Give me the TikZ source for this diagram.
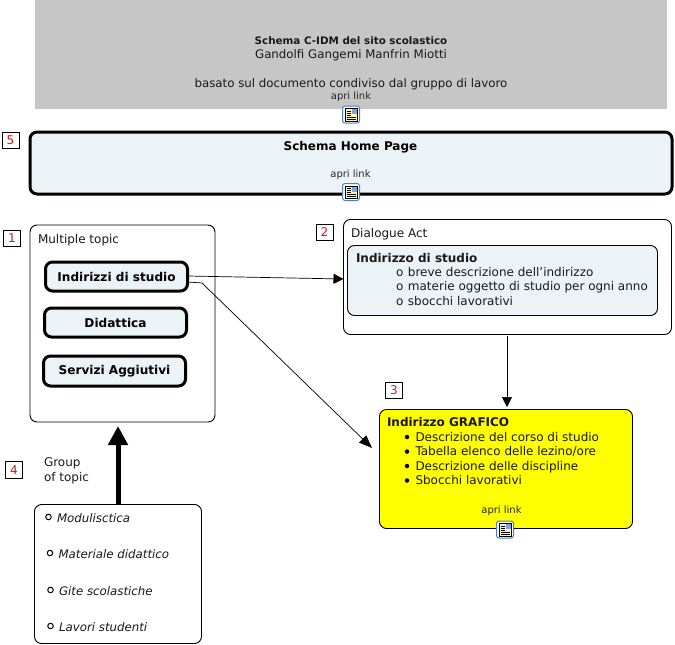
\documentclass[tikz,border=0pt]{standalone}
\usepackage{fontspec}
\setmainfont{DejaVu Sans}
\usetikzlibrary{arrows.meta,calc}
\tikzset{
  x=1pt,y=-1pt,
  card/.style={draw=black,line width=0.9pt,rounded corners=7pt,fill=white,anchor=north west,inner sep=0pt,outer sep=0pt},
  topic/.style={card,line width=3pt,fill=paleblue,rounded corners=7pt,align=center,font=\fontsize{12.1}{13}\selectfont\bfseries},
  numbox/.style={draw=black,line width=0.7pt,fill=white,minimum width=17pt,minimum height=16.5pt,inner sep=0pt,text=numred,font=\fontsize{12}{12}\selectfont},
  txt/.style={inner sep=0pt,outer sep=0pt,anchor=west,align=left,text=black!90,font=\fontsize{12}{14.6}\selectfont},
  small/.style={inner sep=0pt,text=black!85,font=\fontsize{10}{10}\selectfont},
  conn/.style={draw=black,line width=0.7pt,-{Triangle[length=10pt,width=10pt]}},
  linkicon/.pic={
    \draw[draw=iconblue,line width=1pt,fill=white,rounded corners=2.5pt] (-8.5,-8.5) rectangle (8.5,8.5);
    \draw[draw=black,line width=0.8pt,fill=iconyellow] (-6,-6) rectangle (6,6.5);
    \fill[iconblue!70] (0.5,-5.5) rectangle (5.5,-0.5);
    \foreach \yy in {-3.5,-1.5,0.5}{\draw[line width=0.6pt] (-4.5,\yy) -- (-0.5,\yy);}
    \foreach \yy in {2.5,4.5}{\draw[line width=0.6pt] (-4.5,\yy) -- (4.5,\yy);}
  }
}
\definecolor{paleblue}{HTML}{EBF3F6}
\definecolor{numred}{HTML}{D01818}
\definecolor{iconblue}{HTML}{4A80C8}
\definecolor{iconyellow}{HTML}{FBF6B8}
\definecolor{headgray}{HTML}{C6C6C6}
\definecolor{pureyellow}{RGB}{255,255,0}
\begin{document}
\begin{tikzpicture}
\useasboundingbox (0,0) rectangle (675,645);
% boxes
\node[anchor=north west,fill=headgray,minimum width=632pt,minimum height=109pt,inner sep=0pt] (head) at (35,0) {};
\node[topic,minimum width=642pt,minimum height=62pt] (home) at (30,132) {};
\node[card,minimum width=185pt,minimum height=197pt] (multi) at (30,225) {};
\node[topic,minimum width=142pt,minimum height=29pt] (ind) at (45.5,262) {Indirizzi di studio};
\node[topic,minimum width=142pt,minimum height=29pt] (did) at (44.5,308) {Didattica};
\node[topic,minimum width=142pt,minimum height=30pt] (serv) at (43.5,356) {Servizi Aggiutivi};
\node[card,minimum width=328pt,minimum height=115pt] (dial) at (343.5,219.5) {};
\node[card,fill=paleblue,minimum width=310pt,minimum height=70pt] (inner) at (347.5,245.5) {};
\node[card,fill=pureyellow,minimum width=253pt,minimum height=119pt] (yel) at (379.5,409.5) {};
\node[card,minimum width=167pt,minimum height=139pt] (grp) at (34.5,504.5) {};
% header text
\node[inner sep=0pt,align=center,text=black!90,font=\fontsize{11.8}{14}\selectfont,anchor=north] (headtxt) at (351,36.5) {{\fontsize{10.35}{14}\selectfont\textbf{Schema C-IDM del sito scolastico}}\\Gandolfi Gangemi Manfrin Miotti\\[14.5pt]basato sul documento condiviso dal gruppo di lavoro};
\node[small] (l1) at (351,97) {apri link};
\node[inner sep=0pt,font=\fontsize{12}{13}\selectfont\bfseries] (hometxt) at (350.5,147) {Schema Home Page};
\node[small] (l2) at (350.5,175) {apri link};
\node[small] (l3) at (501.5,511) {apri link};
% number tags
\node[numbox] (n5) at (10.5,140.5) {5};
\node[numbox] (n1) at (12,238.5) {1};
\node[numbox] (n2) at (324.5,232.5) {2};
\node[numbox] (n3) at (394,390.5) {3};
\node[numbox] (n4) at (14,470) {4};
% labels
\node[txt] (mt) at (38,240) {Multiple topic};
\node[txt] (da) at (351,234) {Dialogue Act};
\node[txt] (got) at (44,471) {Group\\of topic};
% dialogue contents
\node[txt,anchor=north west] (dt) at (356,253) {\textbf{Indirizzo di studio}};
\node[txt,anchor=north west] (dl) at (396,267) {o\hspace{4.6pt}breve descrizione dell’indirizzo\\o\hspace{4.6pt}materie oggetto di studio per ogni anno\\o\hspace{4.6pt}sbocchi lavorativi};
% yellow contents
\node[txt,anchor=north west] (yt) at (387,417) {\textbf{Indirizzo GRAFICO}};
\node[txt,anchor=north west] (yl) at (415.5,432) {Descrizione del corso di studio\\Tabella elenco delle lezino/ore\\Descrizione delle discipline\\Sbocchi lavorativi};
\foreach \yy/\nm in {437/b1,451.5/b2,466/b3,480.5/b4}{\node[circle,fill=black,minimum size=4.5pt,inner sep=0pt] (\nm) at (407,\yy) {};}
% group contents
\foreach \yy/\xx/\nm/\tt in {518/57/g1/Modulisctica,554/58.5/g2/Materiale didattico,591/59/g3/Gite scolastiche,627/59/g4/Lavori studenti}{
  \node[txt,font=\fontsize{11.8}{13}\selectfont\itshape] (\nm) at (\xx,\yy) {\tt};
  \node[circle,draw=black,line width=1pt,minimum size=5.5pt,inner sep=0pt] (c\nm) at (\xx-8.5,\yy-1) {};
}
% connectors
\coordinate (bend) at (202,283);
\draw[conn] ([yshift=0.5pt]ind.east) -- ([yshift=-2.5pt]dial.west |- ind.east);
\draw[draw=black,line width=0.7pt,-{Triangle[length=13pt,width=10pt]}] ([yshift=-5.5pt]ind.east) -- (bend) -- (372,448);
\draw[conn] (dial.south -| 507,0) ++(0,1.5) -- (507,407) coordinate (yin);
\draw[line width=5pt,-{Triangle[length=19pt,width=19pt]}] (grp.north -| 118,0) -- (118,426);
% icons
\pic at (351,114.5) {linkicon};
\pic at (351,192) {linkicon};
\pic at (505,529.5) {linkicon};
\end{tikzpicture}
\end{document}
